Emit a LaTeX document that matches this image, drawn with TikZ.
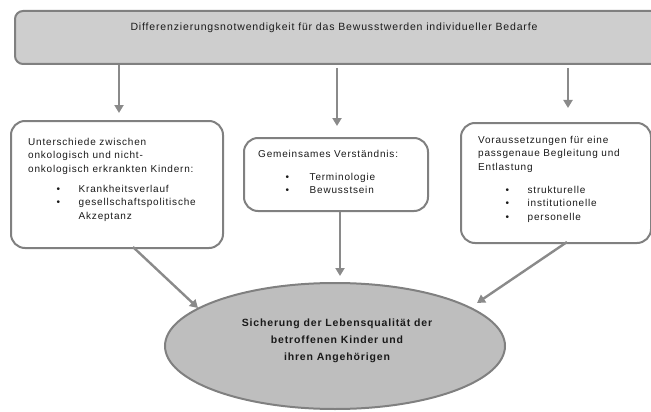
\documentclass[tikz,border=0pt]{standalone}
\usepackage{fontspec}
\setmainfont{Liberation Sans}[LetterSpace=8]
\usetikzlibrary{arrows.meta,shapes.geometric}
\definecolor{boxgray}{HTML}{808080}
\definecolor{topfill}{HTML}{CECECE}
\definecolor{ellfill}{HTML}{BEBEBE}
\definecolor{arrgray}{HTML}{8A8A8A}
\definecolor{txt}{HTML}{1A1A1A}
\begin{document}
\begin{tikzpicture}[x=1pt,y=-1pt,
  box/.style={draw=boxgray, line width=2pt, rounded corners=14pt, fill=white, inner sep=0pt},
  conn/.style={draw=arrgray, line width=2.4pt, -{Triangle[length=8pt,width=9pt]}},
  txtnode/.style={inner sep=0pt, text=txt, font=\fontsize{10}{13.5}\selectfont, align=left},
]
\useasboundingbox (0,0) rectangle (651,412);
% top bar
\node[draw=boxgray, fill=topfill, line width=2pt, rounded corners=8pt, inner sep=0pt,
      minimum width=651pt, minimum height=53pt, anchor=north west] (top) at (14,10) {};
\node[txtnode, font=\fontsize{10.5}{12}\selectfont] (title) at (334,28)
  {Differenzierungsnotwendigkeit für das Bewusstwerden individueller Bedarfe};
% boxes
\node[box, minimum width=212pt, minimum height=127pt, anchor=north west] (left) at (10,120) {};
\node[box, minimum width=184pt, minimum height=73pt, anchor=north west] (mid) at (243,137) {};
\node[box, minimum width=190pt, minimum height=120pt, anchor=north west] (right) at (460,122) {};
% goal ellipse
\node[ellipse, draw=boxgray, fill=ellfill, line width=2pt, inner sep=0pt,
      minimum width=340pt, minimum height=126pt] (goal) at (335,346) {};
% texts
\node[txtnode, anchor=north west] (lefttext) at (28,135.5) {%
\begin{tabular}{@{}l@{}}
Unterschiede zwischen\\
onkologisch und nicht-\\
onkologisch erkrankten Kindern:\\[6.5pt]
\hspace{28.5pt}\makebox[22pt][l]{\textbullet}Krankheitsverlauf\\
\hspace{28.5pt}\makebox[22pt][l]{\textbullet}gesellschaftspolitische\\
\hspace{28.5pt}\makebox[22pt][l]{}Akzeptanz
\end{tabular}};
\node[txtnode, anchor=north west] (midtext) at (258,147.5) {%
\begin{tabular}{@{}l@{}}
Gemeinsames Verständnis:\\[9.5pt]
\hspace{27.5pt}\makebox[24pt][l]{\textbullet}Terminologie\\
\hspace{27.5pt}\makebox[24pt][l]{\textbullet}Bewusstsein
\end{tabular}};
\node[txtnode, anchor=north west] (righttext) at (478,133.5) {%
\begin{tabular}{@{}l@{}}
Voraussetzungen für eine\\
passgenaue Begleitung und\\
Entlastung\\[9.5pt]
\hspace{27.5pt}\makebox[22pt][l]{\textbullet}strukturelle\\
\hspace{27.5pt}\makebox[22pt][l]{\textbullet}institutionelle\\
\hspace{27.5pt}\makebox[22pt][l]{\textbullet}personelle
\end{tabular}};
\node[txtnode, font=\bfseries\fontsize{10.5}{17}\selectfont, align=center] (goaltext) at (337,341)
  {Sicherung der Lebensqualität der\\ betroffenen Kinder und\\ ihren Angehörigen};
% connector end points
\coordinate (l1) at (119,113);
\coordinate (m0) at (337,68);
\coordinate (m1) at (337,126);
\coordinate (r0) at (568,68);
\coordinate (r1) at (568,108);
\coordinate (g0) at (340,276);
\coordinate (gl) at (198,308);
\coordinate (gr) at (477,303);
\coordinate (ls) at (133,247);
\coordinate (rs) at (567,242);
% connectors
\draw[conn] (top.south -| l1) -- (l1);
\draw[conn] (m0) -- (m1);
\draw[conn] (r0) -- (r1);
\draw[conn] (mid.south -| g0) -- (g0);
\draw[conn] (ls) -- (gl);
\draw[conn] (rs) -- (gr);
\end{tikzpicture}
\end{document}
